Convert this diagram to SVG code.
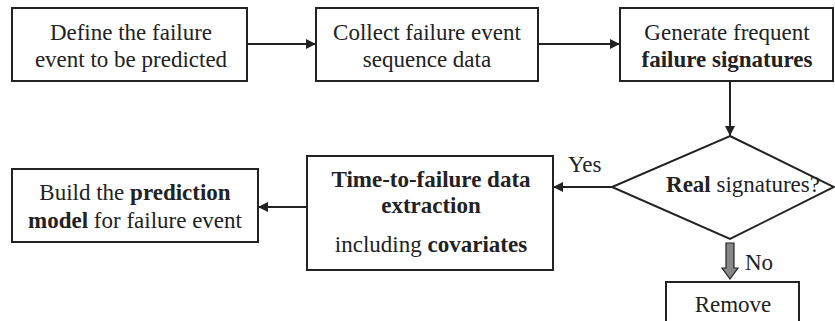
<svg xmlns="http://www.w3.org/2000/svg" width="835" height="321" viewBox="0 0 835 321">
<style>
.box{fill:#fff;stroke:#222;stroke-width:2}
.ln{fill:none;stroke:#222;stroke-width:2}
</style>
<defs>
<marker id="ah" viewBox="0 0 10 10" refX="10" refY="5" markerWidth="5" markerHeight="5" orient="auto" markerUnits="strokeWidth">
<path d="M0,0 L10,5 L0,10 z" fill="#222"/>
</marker>
</defs>
<rect width="835" height="321" fill="#fff"/>
<g id="connectors">
<line class="ln" x1="247" y1="44" x2="316" y2="44" marker-end="url(#ah)"/>
<line class="ln" x1="538" y1="44" x2="620" y2="44" marker-end="url(#ah)"/>
<line class="ln" x1="730" y1="81" x2="730" y2="136" marker-end="url(#ah)"/>
<line class="ln" x1="612" y1="187" x2="553" y2="187" marker-end="url(#ah)"/>
<line class="ln" x1="307" y1="207" x2="258" y2="207" marker-end="url(#ah)"/>
<path d="M726,243 L734,243 L734,268 L738,268 L730,279 L722,268 L726,268 Z" fill="#888" stroke="#222" stroke-width="1.2"/>
<text x="568" y="172" font-family="'Liberation Serif', 'Times New Roman', serif" font-size="23" fill="#222">Yes</text>
<text x="745" y="270" font-family="'Liberation Serif', 'Times New Roman', serif" font-size="23" fill="#222">No</text>
</g>
<g id="define">
<rect class="box" x="12" y="8" width="235" height="73"/>
<text x="131" y="40" font-family="'Liberation Serif', 'Times New Roman', serif" font-size="23" fill="#222" text-anchor="middle">Define the failure</text>
<text x="131" y="67" font-family="'Liberation Serif', 'Times New Roman', serif" font-size="23" fill="#222" text-anchor="middle">event to be predicted</text>
</g>
<g id="collect">
<rect class="box" x="316" y="8" width="222" height="73"/>
<text x="427" y="40" font-family="'Liberation Serif', 'Times New Roman', serif" font-size="23" fill="#222" text-anchor="middle">Collect failure event</text>
<text x="427" y="67" font-family="'Liberation Serif', 'Times New Roman', serif" font-size="23" fill="#222" text-anchor="middle">sequence data</text>
</g>
<g id="generate">
<rect class="box" x="620" y="8" width="213" height="73"/>
<text x="727" y="40" font-family="'Liberation Serif', 'Times New Roman', serif" font-size="23" fill="#222" text-anchor="middle">Generate frequent</text>
<text x="727" y="67" font-family="'Liberation Serif', 'Times New Roman', serif" font-size="23" fill="#222" text-anchor="middle" font-weight="bold">failure signatures</text>
</g>
<g id="decision">
<polygon points="730,136 834,187 730,239 612,187" fill="#fff" stroke="#222" stroke-width="2"/>
<text x="743" y="192" font-family="'Liberation Serif', 'Times New Roman', serif" font-size="23" fill="#222" text-anchor="middle"><tspan font-weight="bold">Real</tspan> signatures?</text>
</g>
<g id="extraction">
<rect class="box" x="307" y="156" width="246" height="114"/>
<text x="431" y="187" font-family="'Liberation Serif', 'Times New Roman', serif" font-size="23" fill="#222" text-anchor="middle" font-weight="bold">Time-to-failure data</text>
<text x="431" y="213" font-family="'Liberation Serif', 'Times New Roman', serif" font-size="23" fill="#222" text-anchor="middle" font-weight="bold">extraction</text>
<text x="431" y="252" font-family="'Liberation Serif', 'Times New Roman', serif" font-size="23" fill="#222" text-anchor="middle">including <tspan font-weight="bold">covariates</tspan></text>
</g>
<g id="build">
<rect class="box" x="12" y="169" width="246" height="73"/>
<text x="135" y="200" font-family="'Liberation Serif', 'Times New Roman', serif" font-size="23" fill="#222" text-anchor="middle">Build the <tspan font-weight="bold">prediction</tspan></text>
<text x="135" y="228" font-family="'Liberation Serif', 'Times New Roman', serif" font-size="23" fill="#222" text-anchor="middle"><tspan font-weight="bold">model</tspan> for failure event</text>
</g>
<g id="remove">
<rect class="box" x="666" y="282" width="133" height="50"/>
<text x="733" y="312" font-family="'Liberation Serif', 'Times New Roman', serif" font-size="23" fill="#222" text-anchor="middle">Remove</text>
</g>
</svg>
